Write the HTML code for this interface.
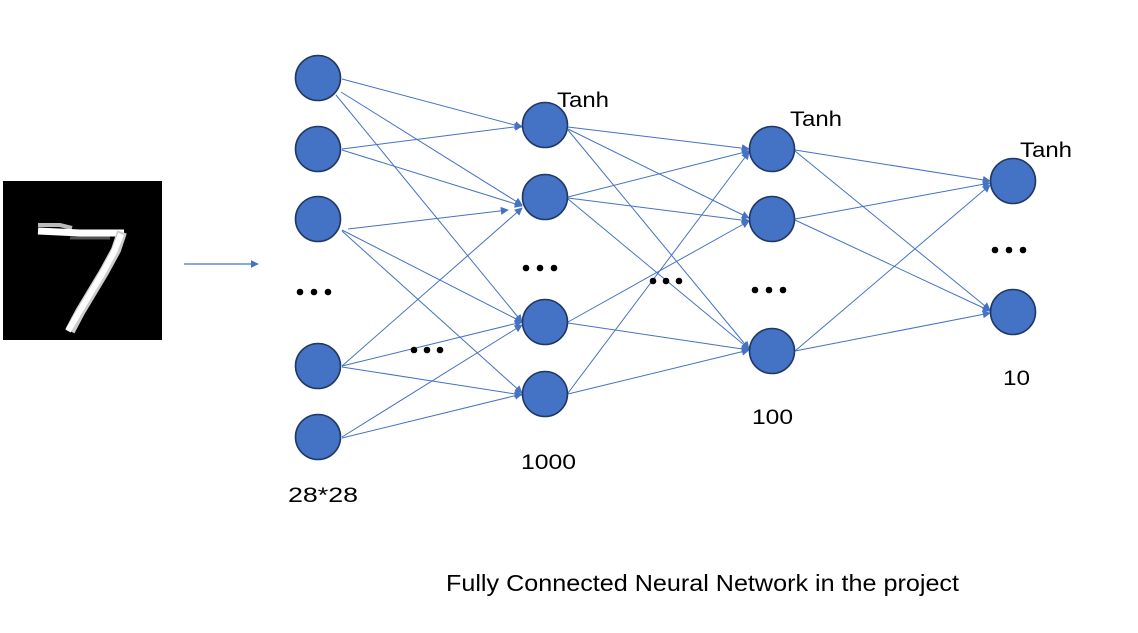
<!DOCTYPE html>
<html><head><meta charset="utf-8"><style>
html,body{margin:0;padding:0;background:#fff;}
svg{display:block;}
text{font-family:"Liberation Sans",sans-serif;fill:#000;}
</style></head><body>
<svg width="1138" height="633" viewBox="0 0 1138 633" xmlns="http://www.w3.org/2000/svg">
<defs>
<marker id="a" viewBox="0 0 10 10" refX="9" refY="5" markerWidth="8" markerHeight="8" orient="auto" markerUnits="userSpaceOnUse">
<path d="M0,0 L10,5 L0,10 z" fill="#4472C4"/></marker>
</defs>
<rect x="3" y="181" width="159" height="159" fill="#000"/>
<g stroke-linecap="butt" stroke-linejoin="miter" fill="none">
<polyline points="38,225 60,225 72,228" stroke="#bbb" stroke-width="4"/>
<polyline points="38,231 80,233 124,233" stroke="#fff" stroke-width="7"/>
<polyline points="70,238 110,238" stroke="#555" stroke-width="3"/>
<polyline points="122,232 116,250 104,272 92,292 80,312 70,331" stroke="#ccc" stroke-width="10"/>
<polyline points="121,234 114,252 102,274 90,294 78,314 68,331" stroke="#fff" stroke-width="6"/>
</g>
<line x1="184" y1="264" x2="258" y2="264" stroke="#4472C4" stroke-width="1.2" marker-end="url(#a)"/>
<g stroke="#4472C4" stroke-width="1" marker-end="url(#a)">
<line x1="342" y1="79" x2="522" y2="127"/>
<line x1="341" y1="92" x2="522" y2="205"/>
<line x1="336" y1="95" x2="522" y2="322"/>
<line x1="342" y1="149" x2="522" y2="126"/>
<line x1="342" y1="150" x2="522" y2="206"/>
<line x1="348" y1="229" x2="508" y2="210"/>
<line x1="342" y1="230" x2="522" y2="322"/>
<line x1="342" y1="231" x2="522" y2="393"/>
<line x1="342" y1="366" x2="522" y2="208"/>
<line x1="342" y1="366" x2="522" y2="322"/>
<line x1="342" y1="367" x2="522" y2="395"/>
<line x1="342" y1="437" x2="522" y2="325"/>
<line x1="342" y1="438" x2="522" y2="394"/>
<line x1="568" y1="127" x2="749" y2="149"/>
<line x1="568" y1="129" x2="749" y2="218"/>
<line x1="568" y1="130" x2="749" y2="349"/>
<line x1="568" y1="197" x2="749" y2="151"/>
<line x1="568" y1="198" x2="749" y2="221"/>
<line x1="568" y1="199" x2="749" y2="349"/>
<line x1="568" y1="322" x2="749" y2="221"/>
<line x1="568" y1="323" x2="749" y2="350"/>
<line x1="568" y1="393" x2="749" y2="152"/>
<line x1="568" y1="394" x2="749" y2="350"/>
<line x1="795" y1="150" x2="990" y2="181"/>
<line x1="795" y1="151" x2="990" y2="310"/>
<line x1="795" y1="219" x2="990" y2="183"/>
<line x1="795" y1="220" x2="990" y2="311"/>
<line x1="795" y1="351" x2="990" y2="185"/>
<line x1="795" y1="351" x2="990" y2="313"/>
</g>
<g fill="#4472C4" stroke="#1F3864" stroke-width="1.6">
<circle cx="318" cy="78" r="22.5"/>
<circle cx="318" cy="149" r="22.5"/>
<circle cx="318" cy="219" r="22.5"/>
<circle cx="318" cy="366" r="22.5"/>
<circle cx="318" cy="437" r="22.5"/>
<circle cx="545" cy="125" r="22.5"/>
<circle cx="545" cy="197" r="22.5"/>
<circle cx="545" cy="322" r="22.5"/>
<circle cx="545" cy="394" r="22.5"/>
<circle cx="772" cy="149" r="22.5"/>
<circle cx="772" cy="219" r="22.5"/>
<circle cx="772" cy="351" r="22.5"/>
<circle cx="1013" cy="181" r="22.5"/>
<circle cx="1013" cy="312" r="22.5"/>
</g>
<g fill="#000">
<circle cx="300" cy="292" r="3.3"/><circle cx="314" cy="292" r="3.3"/><circle cx="328" cy="292" r="3.3"/>
<circle cx="414" cy="350" r="3.3"/><circle cx="427" cy="350" r="3.3"/><circle cx="440" cy="350" r="3.3"/>
<circle cx="526" cy="268" r="3.3"/><circle cx="540" cy="268" r="3.3"/><circle cx="554" cy="268" r="3.3"/>
<circle cx="653" cy="281" r="3.3"/><circle cx="666" cy="281" r="3.3"/><circle cx="679" cy="281" r="3.3"/>
<circle cx="755" cy="290" r="3.3"/><circle cx="769" cy="290" r="3.3"/><circle cx="783" cy="290" r="3.3"/>
<circle cx="995" cy="250" r="3.3"/><circle cx="1009" cy="250" r="3.3"/><circle cx="1023" cy="250" r="3.3"/>
</g>
<g font-size="21">
<text x="557" y="107" textLength="52" lengthAdjust="spacingAndGlyphs">Tanh</text>
<text x="790" y="126" textLength="52" lengthAdjust="spacingAndGlyphs">Tanh</text>
<text x="1020" y="157" textLength="52" lengthAdjust="spacingAndGlyphs">Tanh</text>
<text x="288" y="502" textLength="70" lengthAdjust="spacingAndGlyphs">28*28</text>
<text x="521" y="469" textLength="55" lengthAdjust="spacingAndGlyphs">1000</text>
<text x="752" y="424" textLength="41" lengthAdjust="spacingAndGlyphs">100</text>
<text x="1003" y="385" textLength="27" lengthAdjust="spacingAndGlyphs">10</text>
</g>
<text x="446" y="591" font-size="23" textLength="513" lengthAdjust="spacingAndGlyphs">Fully Connected Neural Network in the project</text>
</svg>
</body></html>
